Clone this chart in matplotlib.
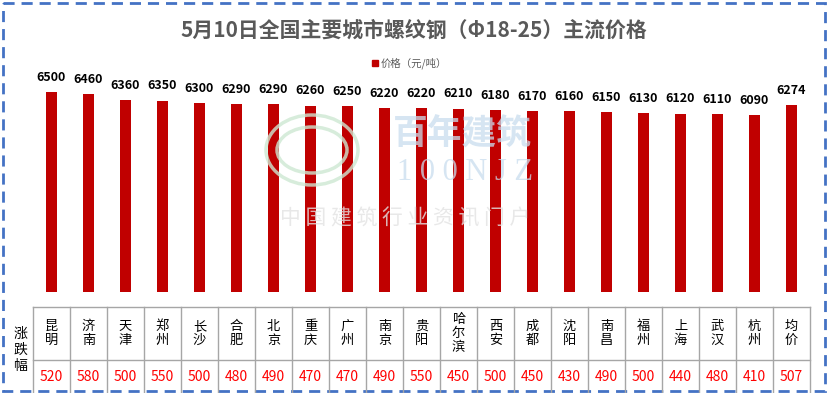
import matplotlib
matplotlib.use('Agg')
import matplotlib.pyplot as plt
from matplotlib.patches import Rectangle, Ellipse

plt.rcParams['font.family'] = ['Noto Sans CJK SC', 'DejaVu Sans']

title = '5月10日全国主要城市螺纹钢（Φ18-25）主流价格'
cities = ['昆明', '济南', '天津', '郑州', '长沙', '合肥', '北京', '重庆', '广州', '南京',
          '贵阳', '哈尔滨', '西安', '成都', '沈阳', '南昌', '福州', '上海', '武汉', '杭州', '均价']
prices = [6500, 6460, 6360, 6350, 6300, 6290, 6290, 6260, 6250, 6220,
          6220, 6210, 6180, 6170, 6160, 6150, 6130, 6120, 6110, 6090, 6274]
changes = [520, 580, 500, 550, 500, 480, 490, 470, 470, 490,
           550, 450, 500, 450, 430, 490, 500, 440, 480, 410, 507]

W, H = 829, 393
fig = plt.figure(figsize=(W / 100, H / 100), dpi=100)

# pixel layout
col_left, col_w = 33, 37
n = len(cities)
plot_top, plot_bottom = 68, 292

ax = fig.add_axes([col_left / W, 1 - plot_bottom / H, col_w * n / W, (plot_bottom - plot_top) / H])
x = list(range(n))
ax.bar(x, prices, width=0.3, color='#C00000', zorder=2)
for xi, p in zip(x, prices):
    ax.annotate(str(p), (xi, p), xytext=(0, 6), textcoords='offset points',
                ha='center', va='bottom', fontsize=9, fontweight='bold', color='#000000')
ax.set_xlim(-0.5, n - 0.5)
ax.set_ylim(3000, 6920)
ax.axis('off')

# overlay axes in pixel coordinates for title, legend, table, border
ov = fig.add_axes([0, 0, 1, 1])
ov.set_xlim(0, W)
ov.set_ylim(H, 0)
ov.axis('off')

ov.text(414, 30, title, ha='center', va='center', fontsize=15,
        fontweight='bold', color='#595959')
ov.add_patch(Rectangle((372, 60), 6, 6, color='#C00000'))
ov.text(381, 63, '价格（元/吨）', ha='left', va='center', fontsize=7.5, color='#595959')

# watermark
for w_, h_ in [(92, 70), (70, 46)]:
    ov.add_patch(Ellipse((312, 150), w_, h_, fill=False, edgecolor='#CDE8D2',
                         lw=2.5, alpha=0.8, zorder=5))
ov.text(462, 134, '百年建筑', ha='center', va='center', fontsize=25,
        color='#C9DDEE', alpha=0.75, fontweight='bold', zorder=5)
ov.text(465, 172, '1 0 0 N J Z', ha='center', va='center', fontsize=22,
        color='#C9DDEE', alpha=0.75, family=['Liberation Serif'], zorder=5)
ov.text(405, 218, '中 国 建 筑 行 业 资 讯 门 户', ha='center', va='center', fontsize=15,
        color='#E3E3E3', alpha=0.8, zorder=5)

# table
tbl_top, tbl_mid, tbl_bot = 307, 360, 392
line_c = '#A6A6A6'
right = col_left + col_w * n
ov.plot([col_left, right], [tbl_top, tbl_top], color=line_c, lw=1)
ov.plot([col_left, right], [tbl_mid, tbl_mid], color=line_c, lw=1)
for i in range(n + 1):
    xl = col_left + col_w * i
    ov.plot([xl, xl], [tbl_top, tbl_bot], color=line_c, lw=1)
for i, (c, v) in enumerate(zip(cities, changes)):
    xc = col_left + col_w * (i + 0.5)
    ov.text(xc, (tbl_top + tbl_mid) / 2, '\n'.join(c), ha='center', va='center',
            fontsize=9.5, color='#000000', linespacing=1.15)
    ov.text(xc, (tbl_mid + tbl_bot) / 2 + 1, str(v), ha='center', va='center',
            fontsize=10, color='#FF0000')
ov.text(20, 350, '涨\n跌\n幅', ha='center', va='center', fontsize=10,
        color='#000000', linespacing=1.15)

# dashed border
ov.add_patch(Rectangle((3, 3), W - 7, H - 5, fill=False, edgecolor='#4472C4',
                       lw=2, linestyle=(0, (4, 2.5))))

fig.savefig('out.png', dpi=100)
